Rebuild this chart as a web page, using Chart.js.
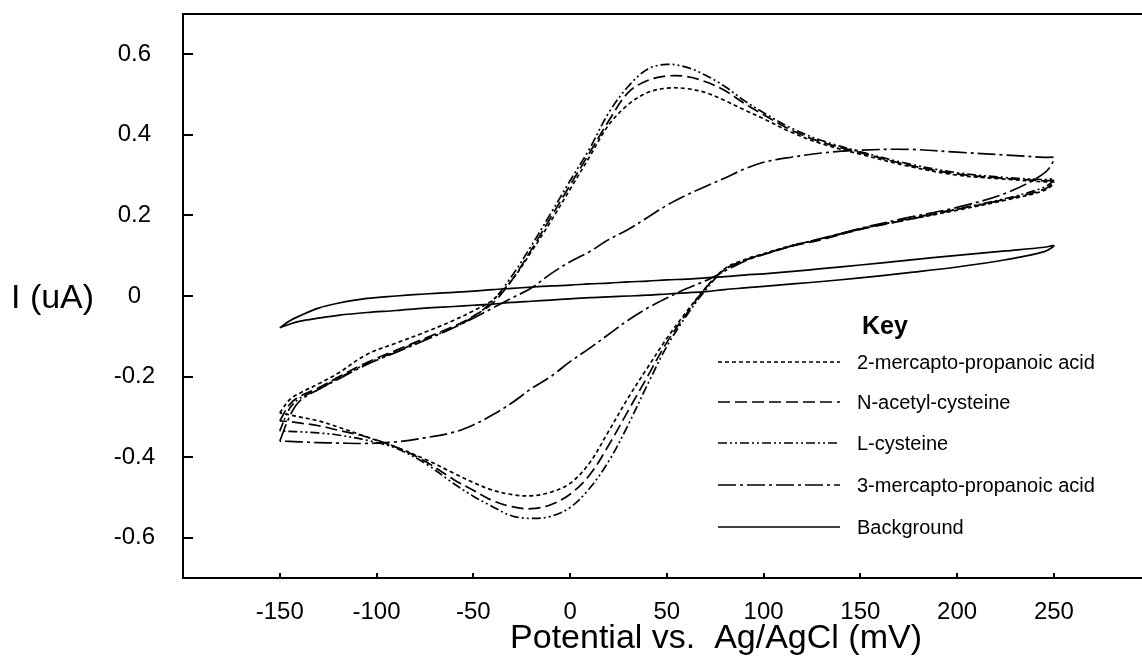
<!DOCTYPE html>
<html>
<head>
<meta charset="utf-8">
<script src="https://cdn.jsdelivr.net/npm/chart.js@4/dist/chart.umd.min.js"></script>
<style>
  body { margin: 0; background: #fff; }
  #wrap { width: 1142px; height: 671px; position: relative; }
</style>
</head>
<body>
<div id="wrap"><canvas id="cv"></canvas></div>
<script>
// potential grid (mV), forward sweep -150 -> 250; reverse sweep uses it backwards
const potential = [-150,-145,-140,-130,-120,-105,-90,-75,-60,-50,-40,-30,-20,-10,0,10,20,30,40,50,60,70,80,90,100,115,130,150,175,200,225,245,250];
const potentialRev = potential.slice().reverse();

const xTicks = [-150,-100,-50,0,50,100,150,200,250];
const yTicks = [-0.6,-0.4,-0.2,0,0.2,0.4,0.6];

const seriesNames = ['2-mercapto-propanoic acid','N-acetyl-cysteine','L-cysteine','3-mercapto-propanoic acid','Background'];

// current (uA), forward sweep, same order as potential
const mpa2Fwd = [-0.29,-0.258,-0.242,-0.218,-0.192,-0.145,-0.117,-0.09,-0.06,-0.037,-0.01,0.04,0.11,0.185,0.265,0.345,0.425,0.475,0.505,0.516,0.515,0.505,0.485,0.462,0.44,0.405,0.378,0.352,0.322,0.3,0.29,0.283,0.282];
// current (uA), reverse sweep, same order as potentialRev
const mpa2Rev = [0.282,0.262,0.238,0.213,0.19,0.167,0.142,0.126,0.105,0.09,0.068,0.02,-0.04,-0.105,-0.178,-0.253,-0.335,-0.415,-0.465,-0.487,-0.496,-0.493,-0.482,-0.463,-0.44,-0.405,-0.375,-0.35,-0.325,-0.31,-0.3,-0.295,-0.29];

const nacFwd = [-0.31,-0.27,-0.25,-0.228,-0.202,-0.165,-0.135,-0.105,-0.075,-0.05,-0.018,0.04,0.115,0.195,0.275,0.355,0.435,0.505,0.535,0.546,0.545,0.532,0.51,0.478,0.45,0.41,0.382,0.356,0.325,0.303,0.292,0.286,0.285];
const nacRev = [0.285,0.265,0.24,0.215,0.19,0.165,0.14,0.124,0.103,0.088,0.066,0.02,-0.045,-0.115,-0.2,-0.285,-0.37,-0.445,-0.492,-0.518,-0.528,-0.523,-0.508,-0.482,-0.456,-0.41,-0.375,-0.35,-0.333,-0.322,-0.315,-0.312,-0.31];

const lcysFwd = [-0.335,-0.28,-0.255,-0.232,-0.205,-0.168,-0.138,-0.108,-0.078,-0.052,-0.012,0.05,0.125,0.205,0.286,0.365,0.455,0.52,0.563,0.575,0.568,0.548,0.52,0.485,0.455,0.415,0.386,0.358,0.328,0.306,0.294,0.289,0.29];
const lcysRev = [0.29,0.27,0.242,0.216,0.192,0.166,0.142,0.125,0.104,0.088,0.066,0.015,-0.05,-0.125,-0.22,-0.32,-0.41,-0.478,-0.525,-0.547,-0.552,-0.546,-0.523,-0.497,-0.466,-0.415,-0.378,-0.358,-0.345,-0.34,-0.337,-0.336,-0.335];

const mpa3Fwd = [-0.36,-0.3,-0.262,-0.232,-0.207,-0.17,-0.14,-0.11,-0.078,-0.055,-0.03,-0.005,0.02,0.055,0.085,0.11,0.14,0.165,0.195,0.225,0.25,0.272,0.293,0.315,0.332,0.345,0.355,0.362,0.364,0.357,0.35,0.344,0.342];
const mpa3Rev = [0.342,0.305,0.255,0.22,0.195,0.168,0.143,0.125,0.103,0.086,0.062,0.038,0.018,-0.005,-0.03,-0.06,-0.095,-0.13,-0.163,-0.2,-0.23,-0.265,-0.295,-0.32,-0.338,-0.352,-0.362,-0.366,-0.365,-0.364,-0.362,-0.361,-0.36];

const bgFwd = [-0.079,-0.062,-0.05,-0.03,-0.018,-0.006,0.0,0.005,0.009,0.012,0.016,0.019,0.022,0.025,0.027,0.03,0.032,0.035,0.037,0.04,0.042,0.045,0.048,0.052,0.055,0.061,0.068,0.077,0.089,0.101,0.112,0.121,0.125];
const bgRev = [0.125,0.11,0.09,0.072,0.058,0.045,0.036,0.03,0.024,0.02,0.016,0.011,0.008,0.005,0.002,0.0,-0.002,-0.004,-0.007,-0.01,-0.013,-0.016,-0.02,-0.023,-0.026,-0.03,-0.036,-0.041,-0.048,-0.055,-0.063,-0.07,-0.079];

// build closed loop: forward then reverse (skip repeated 250 point)
function loop(fwd, rev) {
  let pts = potential.map((e, i) => ({ x: e, y: fwd[i] }));
  potentialRev.forEach((e, i) => { if (i > 0) pts.push({ x: e, y: rev[i] }); });
  return pts;
}

const dashes = [[4,3],[12,5],[9,3,2,3,2,3],[18,4,3,4],[]];
const loops = [loop(mpa2Fwd, mpa2Rev), loop(nacFwd, nacRev), loop(lcysFwd, lcysRev), loop(mpa3Fwd, mpa3Rev), loop(bgFwd, bgRev)];

const FONT = "'Liberation Sans', Arial, sans-serif";

// draws ticks pointing into plot, top frame line, axis titles and the "Key" box
const decor = {
  id: 'decor',
  afterDraw(chart) {
    const ctx = chart.ctx;
    const a = chart.chartArea;
    const xs = chart.scales.x, ys = chart.scales.y;
    ctx.save();
    ctx.strokeStyle = '#000';
    ctx.lineWidth = 2;
    ctx.beginPath();
    ctx.moveTo(a.left - 1, a.top);
    ctx.lineTo(a.right + 1, a.top);
    yTicks.forEach(v => {
      const y = Math.round(ys.getPixelForValue(v));
      ctx.moveTo(a.left, y);
      ctx.lineTo(a.left + 10, y);
    });
    xTicks.forEach(v => {
      const x = Math.round(xs.getPixelForValue(v));
      ctx.moveTo(x, a.bottom);
      ctx.lineTo(x, a.bottom - 5);
    });
    ctx.stroke();

    ctx.fillStyle = '#000';
    ctx.textBaseline = 'alphabetic';
    ctx.textAlign = 'left';
    ctx.font = '34px ' + FONT;
    ctx.fillText('I (uA)', 11, ys.getPixelForValue(0) + 12);
    ctx.textAlign = 'center';
    ctx.font = '34px ' + FONT;
    ctx.fillText('Potential vs.  Ag/AgCl (mV)', 716, 648);

    // key
    ctx.textAlign = 'left';
    ctx.font = 'bold 25px ' + FONT;
    ctx.fillText('Key', 862, 334);
    const rows = [362, 402, 443, 485, 527];
    ctx.font = '20px ' + FONT;
    ctx.textBaseline = 'middle';
    chart.data.datasets.forEach((ds, i) => {
      ctx.setLineDash(ds.borderDash || []);
      ctx.lineWidth = 1.6;
      ctx.beginPath();
      ctx.moveTo(718, rows[i]);
      ctx.lineTo(840, rows[i]);
      ctx.stroke();
      ctx.setLineDash([]);
      ctx.fillText(ds.label, 857, rows[i] + 1);
    });
    ctx.restore();
  }
};

new Chart(document.getElementById('cv'), {
  type: 'scatter',
  data: {
    datasets: loops.map((pts, i) => ({
      label: seriesNames[i],
      data: pts,
      showLine: true,
      borderColor: '#000',
      borderWidth: 1.7,
      borderDash: dashes[i],
      pointRadius: 0,
      tension: 0.35,
      fill: false
    }))
  },
  options: {
    responsive: true,
    maintainAspectRatio: false,
    animation: false,
    layout: { padding: { top: 14, right: 1, left: 0, bottom: 0 } },
    plugins: { legend: { display: false }, tooltip: { enabled: false } },
    scales: {
      x: {
        type: 'linear',
        min: -200,
        max: 295,
        afterBuildTicks: s => { s.ticks = xTicks.map(v => ({ value: v })); },
        afterFit: s => { s.height = 93; s.paddingLeft = 0; s.paddingRight = 0; },
        grid: { display: false, drawTicks: false },
        border: { display: true, color: '#000', width: 2 },
        ticks: { color: '#000', font: { family: FONT, size: 24 }, padding: 20, autoSkip: false, maxRotation: 0 }
      },
      y: {
        type: 'linear',
        min: -0.7,
        max: 0.7,
        afterBuildTicks: s => { s.ticks = yTicks.map(v => ({ value: v })); },
        afterFit: s => { s.width = 183; s.paddingTop = 0; s.paddingBottom = 0; },
        grid: { display: false, drawTicks: false },
        border: { display: true, color: '#000', width: 2 },
        ticks: { color: '#000', font: { family: FONT, size: 24 }, padding: 28, crossAlign: 'center', autoSkip: false, callback: v => String(v) }
      }
    }
  },
  plugins: [decor]
});
</script>
</body>
</html>
